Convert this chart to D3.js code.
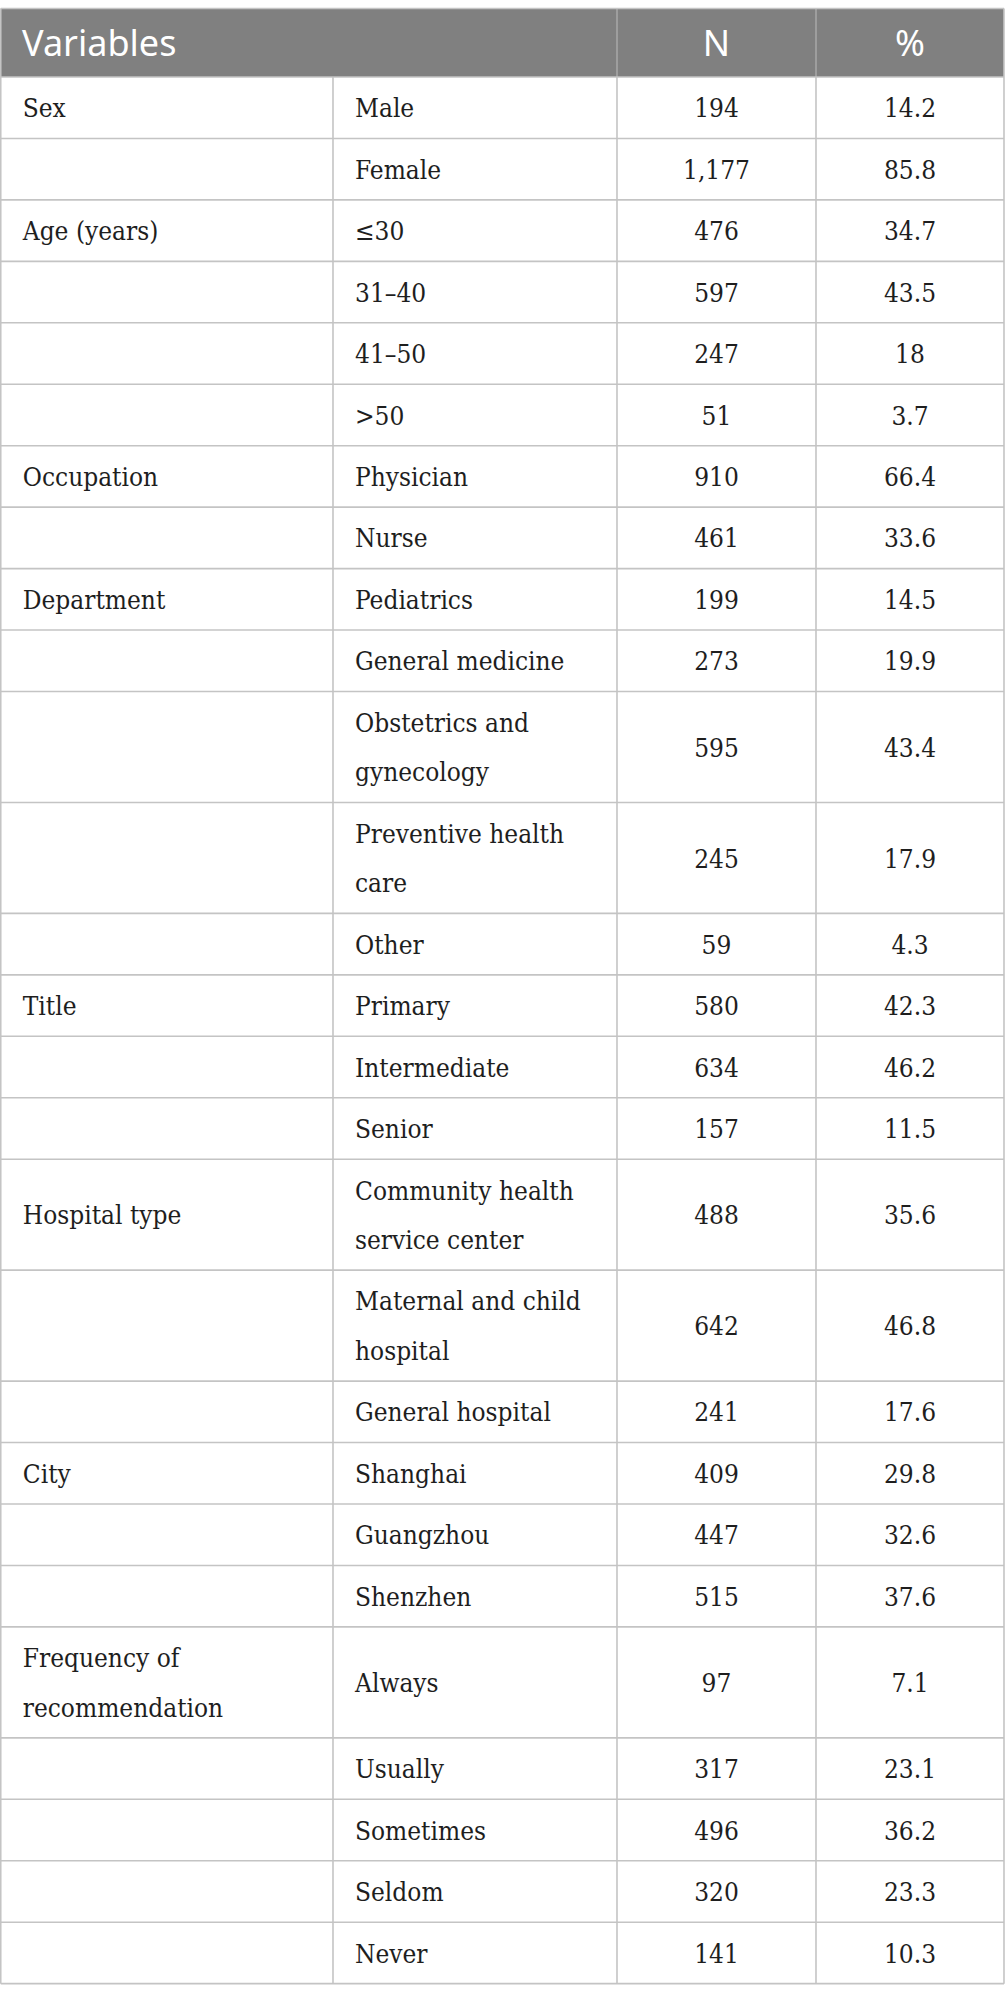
<html>
  <head>
    <style>
      body { margin: 0; background: #fff; }
      .cell { font-family: "DejaVu Serif Condensed", "DejaVu Serif", serif; font-stretch: condensed; }
    </style>
    <script src="https://cdn.jsdelivr.net/npm/d3@7"></script>
  </head>
  <body>
    <svg id="container" height="2003" width="1005">
      <g id="body"></g>
    </svg>
  </body>
  <script>
    // table contents, one entry per row
    const variables = ["Sex", "", "Age (years)", "", "", "", "Occupation", "", "Department", "", "", "", "",
      "Title", "", "", "Hospital type", "", "", "City", "", "", "Frequency of\nrecommendation", "", "", "", ""];
    const categories = ["Male", "Female", "\u226430", "31\u201340", "41\u201350", ">50", "Physician", "Nurse",
      "Pediatrics", "General medicine", "Obstetrics and\ngynecology", "Preventive health\ncare", "Other",
      "Primary", "Intermediate", "Senior", "Community health\nservice center", "Maternal and child\nhospital",
      "General hospital", "Shanghai", "Guangzhou", "Shenzhen", "Always", "Usually", "Sometimes", "Seldom", "Never"];
    const counts = ["194", "1,177", "476", "597", "247", "51", "910", "461", "199", "273", "595", "245", "59",
      "580", "634", "157", "488", "642", "241", "409", "447", "515", "97", "317", "496", "320", "141"];
    const percents = ["14.2", "85.8", "34.7", "43.5", "18", "3.7", "66.4", "33.6", "14.5", "19.9", "43.4", "17.9", "4.3",
      "42.3", "46.2", "11.5", "35.6", "46.8", "17.6", "29.8", "32.6", "37.6", "7.1", "23.1", "36.2", "23.3", "10.3"];
    const headers = ["Variables", "N", "%"];

    const body = d3.select("#body");

    const tableTop = 8.5, headerH = 68.5, rowH = 61.45, lineH = 49.5, capOff = 9.6;
    const edges = [0.75, 333, 617, 816, 1004];
    const x = d3.scaleOrdinal().domain([0, 1, 2, 3, 4]).range(edges);

    const rows = categories.map((c, i) => ({
      cells: [variables[i], c, counts[i], percents[i]].map(s => s.split("\n"))
    }));
    rows.forEach(r => { r.h = rowH + (d3.max(r.cells, c => c.length) - 1) * lineH; });
    const ends = d3.cumsum(rows, r => r.h);
    rows.forEach((r, i) => { r.y = tableTop + headerH + ends[i] - r.h; });
    const tableBottom = tableTop + headerH + ends[ends.length - 1];

    // header band
    body.append("rect")
      .attr("x", x(0)).attr("y", tableTop)
      .attr("width", x(4) - x(0)).attr("height", headerH)
      .attr("fill", "#808080");

    body.selectAll(".hdiv")
      .data([2, 3])
      .join("line")
      .attr("x1", d => x(d)).attr("x2", d => x(d))
      .attr("y1", tableTop).attr("y2", tableTop + headerH)
      .attr("stroke", "#a9a9a9").attr("stroke-width", 1.5);

    body.selectAll(".htext")
      .data(headers)
      .join("text")
      .attr("x", (d, i) => i == 0 ? 22 : (x(i + 1) + x(i + 2)) / 2)
      .attr("y", tableTop + headerH / 2 + 13)
      .attr("text-anchor", (d, i) => i == 0 ? "start" : "middle")
      .attr("font-family", "Noto Sans")
      .attr("font-size", 36)
      .attr("fill", "#fff")
      .text(d => d);

    // horizontal rules
    const hy = [tableTop, tableTop + headerH].concat(rows.map(r => r.y + r.h));
    body.selectAll(".hline")
      .data(hy)
      .join("line")
      .attr("x1", x(0)).attr("x2", x(4))
      .attr("y1", d => d).attr("y2", d => d)
      .attr("stroke", "#c4c4c4").attr("stroke-width", 1.6);

    // vertical rules in the body
    body.selectAll(".vline")
      .data([0, 1, 2, 3, 4])
      .join("line")
      .attr("x1", d => x(d)).attr("x2", d => x(d))
      .attr("y1", d => (d == 0 || d == 4) ? tableTop : tableTop + headerH)
      .attr("y2", tableBottom)
      .attr("stroke", "#c4c4c4").attr("stroke-width", 1.6);

    // cell texts
    const rowG = body.selectAll(".row")
      .data(rows)
      .join("g")
      .attr("transform", d => `translate(0,${d.y})`);

    rowG.each(function (r) {
      d3.select(this).selectAll("text")
        .data(r.cells.flatMap((lines, ci) => lines.map((t, li) => ({ t, ci, li, n: lines.length }))))
        .join("text")
        .attr("class", "cell")
        .attr("x", d => d.ci < 2 ? x(d.ci) + 22 : (x(d.ci) + x(d.ci + 1)) / 2)
        .attr("y", d => r.h / 2 + (d.li - (d.n - 1) / 2) * lineH + capOff)
        .attr("text-anchor", d => d.ci < 2 ? "start" : "middle")
        .attr("font-size", 26)
        .attr("fill", "#1e1e1e")
        .text(d => d.t);
    });
  </script>
</html>
